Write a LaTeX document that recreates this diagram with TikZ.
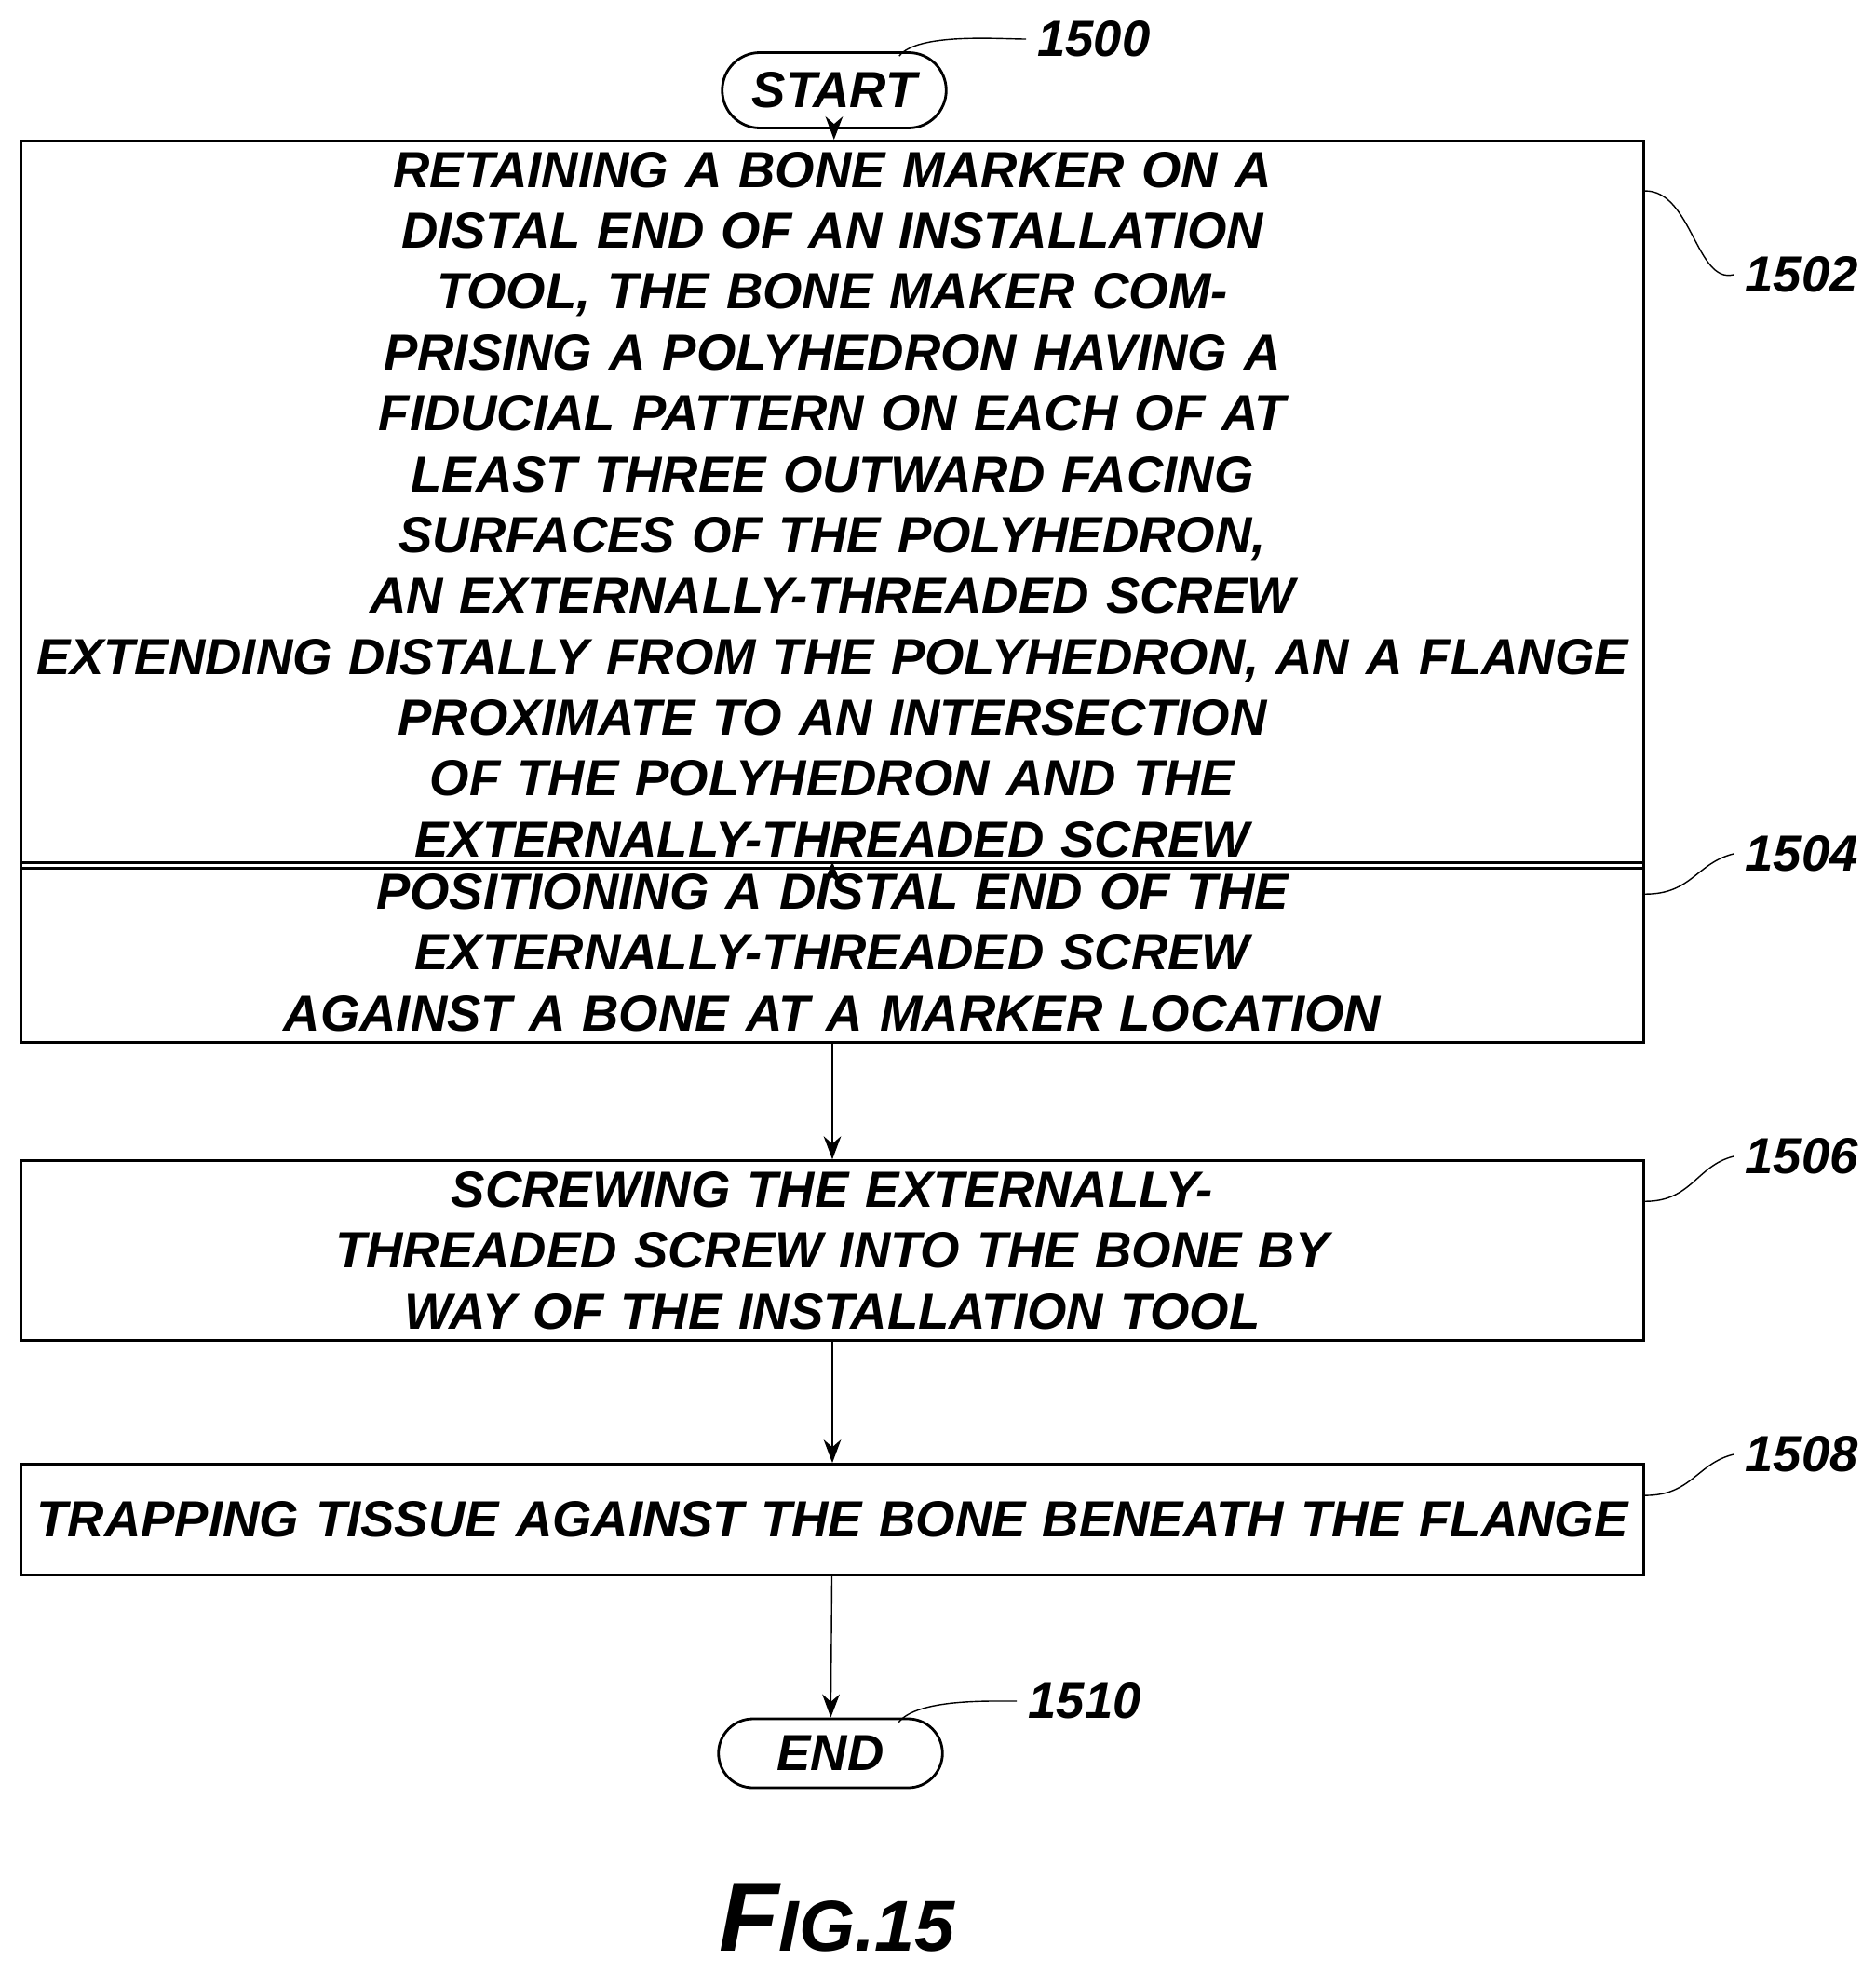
\documentclass[tikz,border=0pt]{standalone}
\usepackage{fontspec}
\setmainfont{Liberation Sans}
\usetikzlibrary{positioning,shapes.misc,arrows.meta}
\tikzset{
  stepbox/.style={draw,thick,minimum width=17.43cm,text width=17.2cm,align=center,
    font=\bfseries\itshape\fontsize{15.5}{18.6}\selectfont},
  term/.style={draw,thick,rounded rectangle,minimum width=2.64cm,
    font=\bfseries\itshape\fontsize{15.5}{17}\selectfont},
  flow/.style={thin,-{Stealth[length=2.5mm]}},
  tag/.style={font=\bfseries\itshape\fontsize{15.5}{17}\selectfont},
  lead/.style={thin}
}
\begin{document}
\begin{tikzpicture}
\useasboundingbox (0,0) rectangle (20.14,-21.19);

\node[term,minimum height=0.81cm] (start) at (8.96,-0.97) {START};
\node[stepbox,minimum height=5.05cm] (s1502) at (8.94,-5.42) {RETAINING A BONE MARKER ON A DISTAL END OF AN INSTALLATION\\ TOOL, THE BONE MAKER COMPRISING A POLYHEDRON HAVING A\\ FIDUCIAL PATTERN ON EACH OF AT LEAST THREE OUTWARD FACING\\ SURFACES OF THE POLYHEDRON, AN EXTERNALLY-THREADED SCREW\\ EXTENDING DISTALLY FROM THE POLYHEDRON, AN A FLANGE\\ PROXIMATE TO AN INTERSECTION OF THE POLYHEDRON AND THE\\ EXTERNALLY-THREADED SCREW};
\node[stepbox,minimum height=1.83cm] (s1504) at (8.94,-10.23) {POSITIONING A DISTAL END OF THE EXTERNALLY-THREADED SCREW\\ AGAINST A BONE AT A MARKER LOCATION};
\node[stepbox,minimum height=1.82cm] (s1506) at (8.94,-13.43) {SCREWING THE EXTERNALLY-THREADED SCREW INTO THE BONE BY\\ WAY OF THE INSTALLATION TOOL};
\node[stepbox,minimum height=1.19cm] (s1508) at (8.94,-16.32) {TRAPPING TISSUE AGAINST THE BONE BENEATH THE FLANGE};
\node[term,minimum height=0.74cm] (end) at (8.92,-18.83) {END};

% arrows
\draw[flow] (start) -- (s1502);
\draw[flow] (s1502) -- (s1504);
\draw[flow] (s1504) -- (s1506);
\draw[flow] (s1506) -- (s1508);
\draw[flow] (s1508) -- (end);

% reference numerals
\node[tag] (t1500) at (11.75,-0.42) {1500};
\node[tag] (t1502) at (19.35,-2.95) {1502};
\node[tag] (t1504) at (19.35,-9.17) {1504};
\node[tag] (t1506) at (19.35,-12.42) {1506};
\node[tag] (t1508) at (19.35,-15.62) {1508};
\node[tag] (t1510) at (11.65,-18.27) {1510};
\draw[lead] (start.north east) ++(-0.1,-0.05) .. controls +(0.2,0.25) and +(-0.3,0) .. (t1500.west);
\draw[lead] ([yshift=-0.55cm]s1502.north east) .. controls +(0.5,0) and +(-0.4,-0.1) .. (t1502.west);
\draw[lead] ([yshift=-0.35cm]s1504.north east) .. controls +(0.5,0) and +(-0.4,-0.1) .. (t1504.west);
\draw[lead] ([yshift=-0.45cm]s1506.north east) .. controls +(0.5,0) and +(-0.4,-0.1) .. (t1506.west);
\draw[lead] ([yshift=-0.35cm]s1508.north east) .. controls +(0.5,0) and +(-0.4,-0.1) .. (t1508.west);
\draw[lead] (end.north east) ++(-0.1,-0.05) .. controls +(0.2,0.25) and +(-0.3,0) .. (t1510.west);

\node[font=\bfseries\itshape] (fig) at (8.99,-20.6) {{\fontsize{30}{30}\selectfont F}{\fontsize{22}{22}\selectfont IG.15}};
\end{tikzpicture}
\end{document}
